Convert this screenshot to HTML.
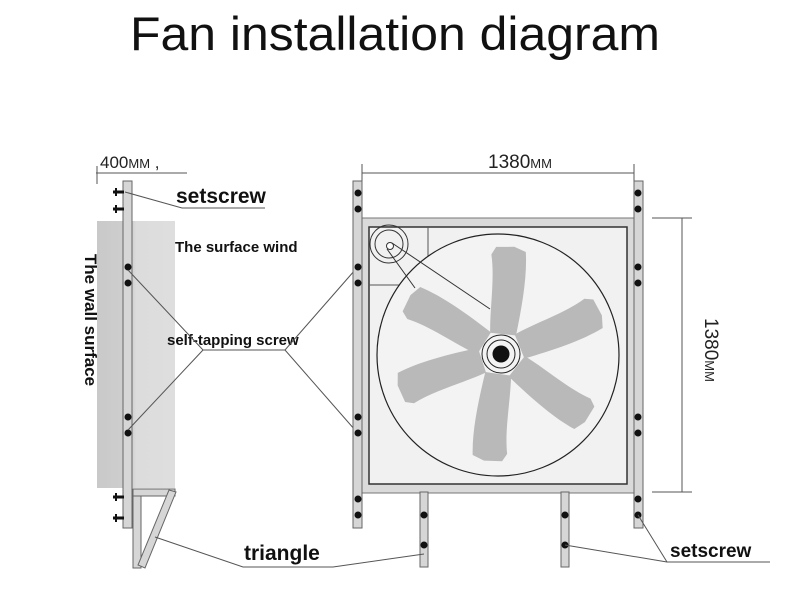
<!DOCTYPE html>
<html><head><style>html,body{margin:0;padding:0;background:#fff}svg{display:block}</style></head>
<body>
<svg width="800" height="600" viewBox="0 0 800 600" xmlns="http://www.w3.org/2000/svg" font-family="Liberation Sans, sans-serif">
<defs>
<linearGradient id="wall" x1="0" x2="1" y1="0" y2="0">
<stop offset="0" stop-color="#c9c9c9"/><stop offset="0.45" stop-color="#cfcfcf"/><stop offset="0.5" stop-color="#dcdcdc"/><stop offset="1" stop-color="#dedede"/>
</linearGradient>
<g id="blade"><path d="M20,-13 C45,-16 75,-14 98,-20 L106,-16 L108,2 L104,14 C80,18 50,16 20,13 Z" fill="#b9b9b9"/></g>
</defs>
<text x="395" y="50" font-size="47" text-anchor="middle" textLength="530" lengthAdjust="spacingAndGlyphs" fill="#111">Fan installation diagram</text>

<!-- left side view -->
<rect x="97" y="221" width="78" height="267" fill="url(#wall)"/>
<text x="100" y="168" font-size="17" fill="#222">400<tspan font-size="13">MM</tspan> ,</text>
<line x1="96" y1="173" x2="187" y2="173" stroke="#555"/>
<line x1="97" y1="166" x2="97" y2="184" stroke="#555"/>
<rect x="123" y="181" width="9" height="347" fill="#d6d6d6" stroke="#666" stroke-width="1"/>
<g stroke="#111" stroke-width="3">
<line x1="113" y1="192" x2="124" y2="192"/><line x1="113" y1="209" x2="124" y2="209"/>
<line x1="113" y1="497" x2="124" y2="497"/><line x1="113" y1="518" x2="124" y2="518"/>
</g>
<g stroke="#111" stroke-width="2"><line x1="116" y1="188" x2="116" y2="196"/><line x1="116" y1="205" x2="116" y2="213"/><line x1="116" y1="493" x2="116" y2="501"/><line x1="116" y1="514" x2="116" y2="522"/></g>
<g fill="#111"><circle cx="128" cy="267" r="3.5"/><circle cx="128" cy="283" r="3.5"/><circle cx="128" cy="417" r="3.5"/><circle cx="128" cy="433" r="3.5"/></g>
<g fill="#d6d6d6" stroke="#666" stroke-width="1">
<rect x="133" y="489" width="42" height="7"/>
<rect x="133" y="496" width="8" height="72"/>
<polygon points="169,490 176,492 145,568 138,565"/>
</g>
<text x="85" y="320" font-size="17" font-weight="bold" fill="#111" text-anchor="middle" transform="rotate(90 85 320)">The wall surface</text>
<text x="176" y="203" font-size="21" font-weight="bold" fill="#111">setscrew</text>
<polyline points="125,192 182,208 265,208" fill="none" stroke="#555"/>
<text x="175" y="252" font-size="15" font-weight="bold" fill="#111">The surface wind</text>
<text x="167" y="345" font-size="15" font-weight="bold" fill="#111">self-tapping screw</text>
<g stroke="#555" fill="none">
<polyline points="128,270 203,350 285,350 355,270"/>
<polyline points="128,430 203,350"/><polyline points="285,350 355,430"/>
</g>

<!-- fan front view -->
<text x="520" y="168" font-size="19" text-anchor="middle" fill="#222">1380<tspan font-size="13">MM</tspan></text>
<line x1="362" y1="173" x2="634" y2="173" stroke="#555"/>
<line x1="362" y1="164" x2="362" y2="182" stroke="#555"/><line x1="634" y1="164" x2="634" y2="182" stroke="#555"/>
<rect x="362" y="218" width="272" height="275" fill="#dadada" stroke="#777"/>
<rect x="369" y="227" width="258" height="257" fill="#f1f1f1" stroke="#333" stroke-width="1.5"/>
<polyline points="369,285 428,285 428,227" fill="none" stroke="#555"/>
<circle cx="498" cy="355" r="121" fill="#f3f3f3" stroke="#222" stroke-width="1.2"/>
<g transform="translate(501 354)">
<use href="#blade" transform="rotate(-84)"/>
<use href="#blade" transform="rotate(-22)"/>
<use href="#blade" transform="rotate(38)"/>
<use href="#blade" transform="rotate(98)"/>
<use href="#blade" transform="rotate(162)"/>
<use href="#blade" transform="rotate(-148)"/>
</g>
<circle cx="389" cy="244" r="19" fill="none" stroke="#333"/>
<circle cx="389" cy="244" r="14" fill="none" stroke="#333"/>
<circle cx="390" cy="246" r="3.5" fill="#fff" stroke="#333"/>
<line x1="392" y1="243" x2="490" y2="309" stroke="#333"/>
<line x1="387" y1="249" x2="415" y2="288" stroke="#333"/>
<circle cx="501" cy="354" r="19" fill="#f3f3f3" stroke="#222"/>
<circle cx="501" cy="354" r="14" fill="none" stroke="#222"/>
<circle cx="501" cy="354" r="8.5" fill="#111"/>
<g fill="#d6d6d6" stroke="#666">
<rect x="353" y="181" width="9" height="347"/><rect x="634" y="181" width="9" height="347"/>
<rect x="420" y="492" width="8" height="75"/><rect x="561" y="492" width="8" height="75"/>
</g>
<g fill="#111">
<circle cx="358" cy="193" r="3.5"/><circle cx="358" cy="209" r="3.5"/><circle cx="358" cy="267" r="3.5"/><circle cx="358" cy="283" r="3.5"/><circle cx="358" cy="417" r="3.5"/><circle cx="358" cy="433" r="3.5"/><circle cx="358" cy="499" r="3.5"/><circle cx="358" cy="515" r="3.5"/>
<circle cx="638" cy="193" r="3.5"/><circle cx="638" cy="209" r="3.5"/><circle cx="638" cy="267" r="3.5"/><circle cx="638" cy="283" r="3.5"/><circle cx="638" cy="417" r="3.5"/><circle cx="638" cy="433" r="3.5"/><circle cx="638" cy="499" r="3.5"/><circle cx="638" cy="515" r="3.5"/>
<circle cx="424" cy="515" r="3.5"/><circle cx="424" cy="545" r="3.5"/><circle cx="565" cy="515" r="3.5"/><circle cx="565" cy="545" r="3.5"/>
</g>
<line x1="682" y1="218" x2="682" y2="492" stroke="#555"/>
<line x1="652" y1="218" x2="692" y2="218" stroke="#555"/><line x1="652" y1="492" x2="692" y2="492" stroke="#555"/>
<text x="705" y="350" font-size="19" text-anchor="middle" fill="#222" transform="rotate(90 705 350)">1380<tspan font-size="13">MM</tspan></text>

<text x="244" y="560" font-size="21" font-weight="bold" fill="#111">triangle</text>
<polyline points="155,537 243,567 333,567 424,554" fill="none" stroke="#555"/>
<text x="670" y="557" font-size="19" font-weight="bold" fill="#111">setscrew</text>
<polyline points="638,515 667,562 770,562" fill="none" stroke="#555"/>
<line x1="565" y1="545" x2="667" y2="562" stroke="#555"/>
</svg>
</body></html>
